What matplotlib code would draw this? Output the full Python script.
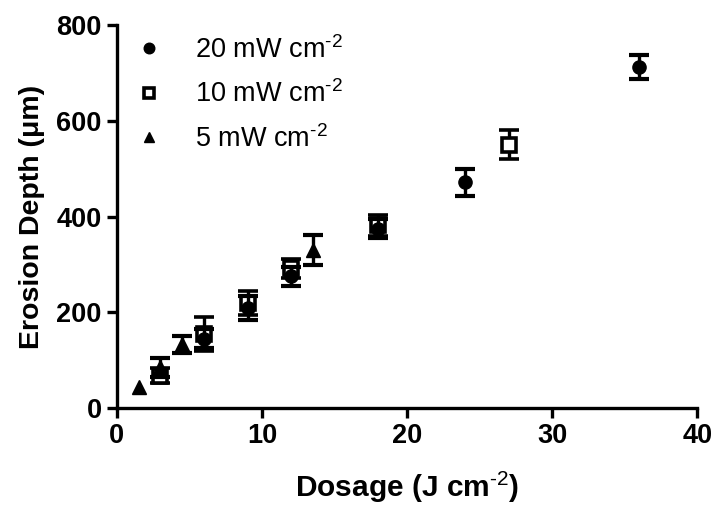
import matplotlib
matplotlib.use("Agg")
import matplotlib.pyplot as plt

plt.rcParams["font.family"] = ["Liberation Sans", "DejaVu Sans"]
plt.rcParams["mathtext.fontset"] = "custom"
plt.rcParams["mathtext.rm"] = "Liberation Sans"
plt.rcParams["mathtext.bf"] = "Liberation Sans:bold"
plt.rcParams["mathtext.it"] = "Liberation Sans:italic"
plt.rcParams["mathtext.default"] = "regular"

# Erosion depth vs. delivered dose, one series per irradiance
dose_20 = [6, 9, 12, 18, 24, 36]
depth_20 = [145, 210, 275, 375, 472, 712]
err_20 = [20, 25, 20, 20, 28, 25]

dose_10 = [3, 6, 9, 12, 18, 27]
depth_10 = [68, 155, 220, 292, 382, 550]
err_10 = [15, 35, 25, 20, 22, 30]

dose_5 = [1.5, 3, 4.5, 13.5]
depth_5 = [45, 85, 133, 330]
err_5 = [float("nan"), 20, 18, 32]  # first point has no error bar

labels = [r"20 mW cm$^{\text{-2}}$", r"10 mW cm$^{\text{-2}}$", r"5 mW cm$^{\text{-2}}$"]

fig = plt.figure(figsize=(7.13, 5.14), dpi=100)
ax = fig.add_axes([0.164, 0.206, 0.814, 0.745])

common = dict(ls="none", ecolor="black", elinewidth=2.4, capsize=7.5, capthick=3.0)
# squares go underneath, filled circles and triangles on top
h10 = ax.errorbar(dose_10, depth_10, yerr=err_10, fmt="s", ms=9.5, mfc="white", mec="black",
                  mew=2.6, zorder=2, **common)
h20 = ax.errorbar(dose_20, depth_20, yerr=err_20, fmt="o", ms=9.5, mfc="black", mec="black",
                  zorder=3, **common)
h5 = ax.errorbar(dose_5, depth_5, yerr=err_5, fmt="^", ms=9.5, mfc="black", mec="black",
                 zorder=4, **common)

ax.set_xlim(0, 40)
ax.set_ylim(0, 800)
ax.set_xticks([0, 10, 20, 30, 40])
ax.set_yticks([0, 200, 400, 600, 800])

for side in ("top", "right"):
    ax.spines[side].set_visible(False)
for side in ("left", "bottom"):
    ax.spines[side].set_linewidth(2.4)
ax.tick_params(direction="out", length=7, width=2.4, labelsize=19.5, pad=4)
for lab in ax.get_xticklabels() + ax.get_yticklabels():
    lab.set_fontweight("bold")

ax.set_xlabel(r"Dosage (J cm$^{\mathbf{\text{-2}}}$)", fontsize=21.5, fontweight="bold", labelpad=15)
ax.set_ylabel("Erosion Depth (μm)", fontsize=20.5, fontweight="bold", labelpad=8)

ax.legend([h20[0], h10[0], h5[0]], labels, loc="upper left", bbox_to_anchor=(0.0, 1.022),
          frameon=False, fontsize=19.5, handlelength=1.0, handletextpad=1.2,
          labelspacing=0.62, markerscale=0.8, borderaxespad=0.3)

fig.savefig("out.png", dpi=100)
